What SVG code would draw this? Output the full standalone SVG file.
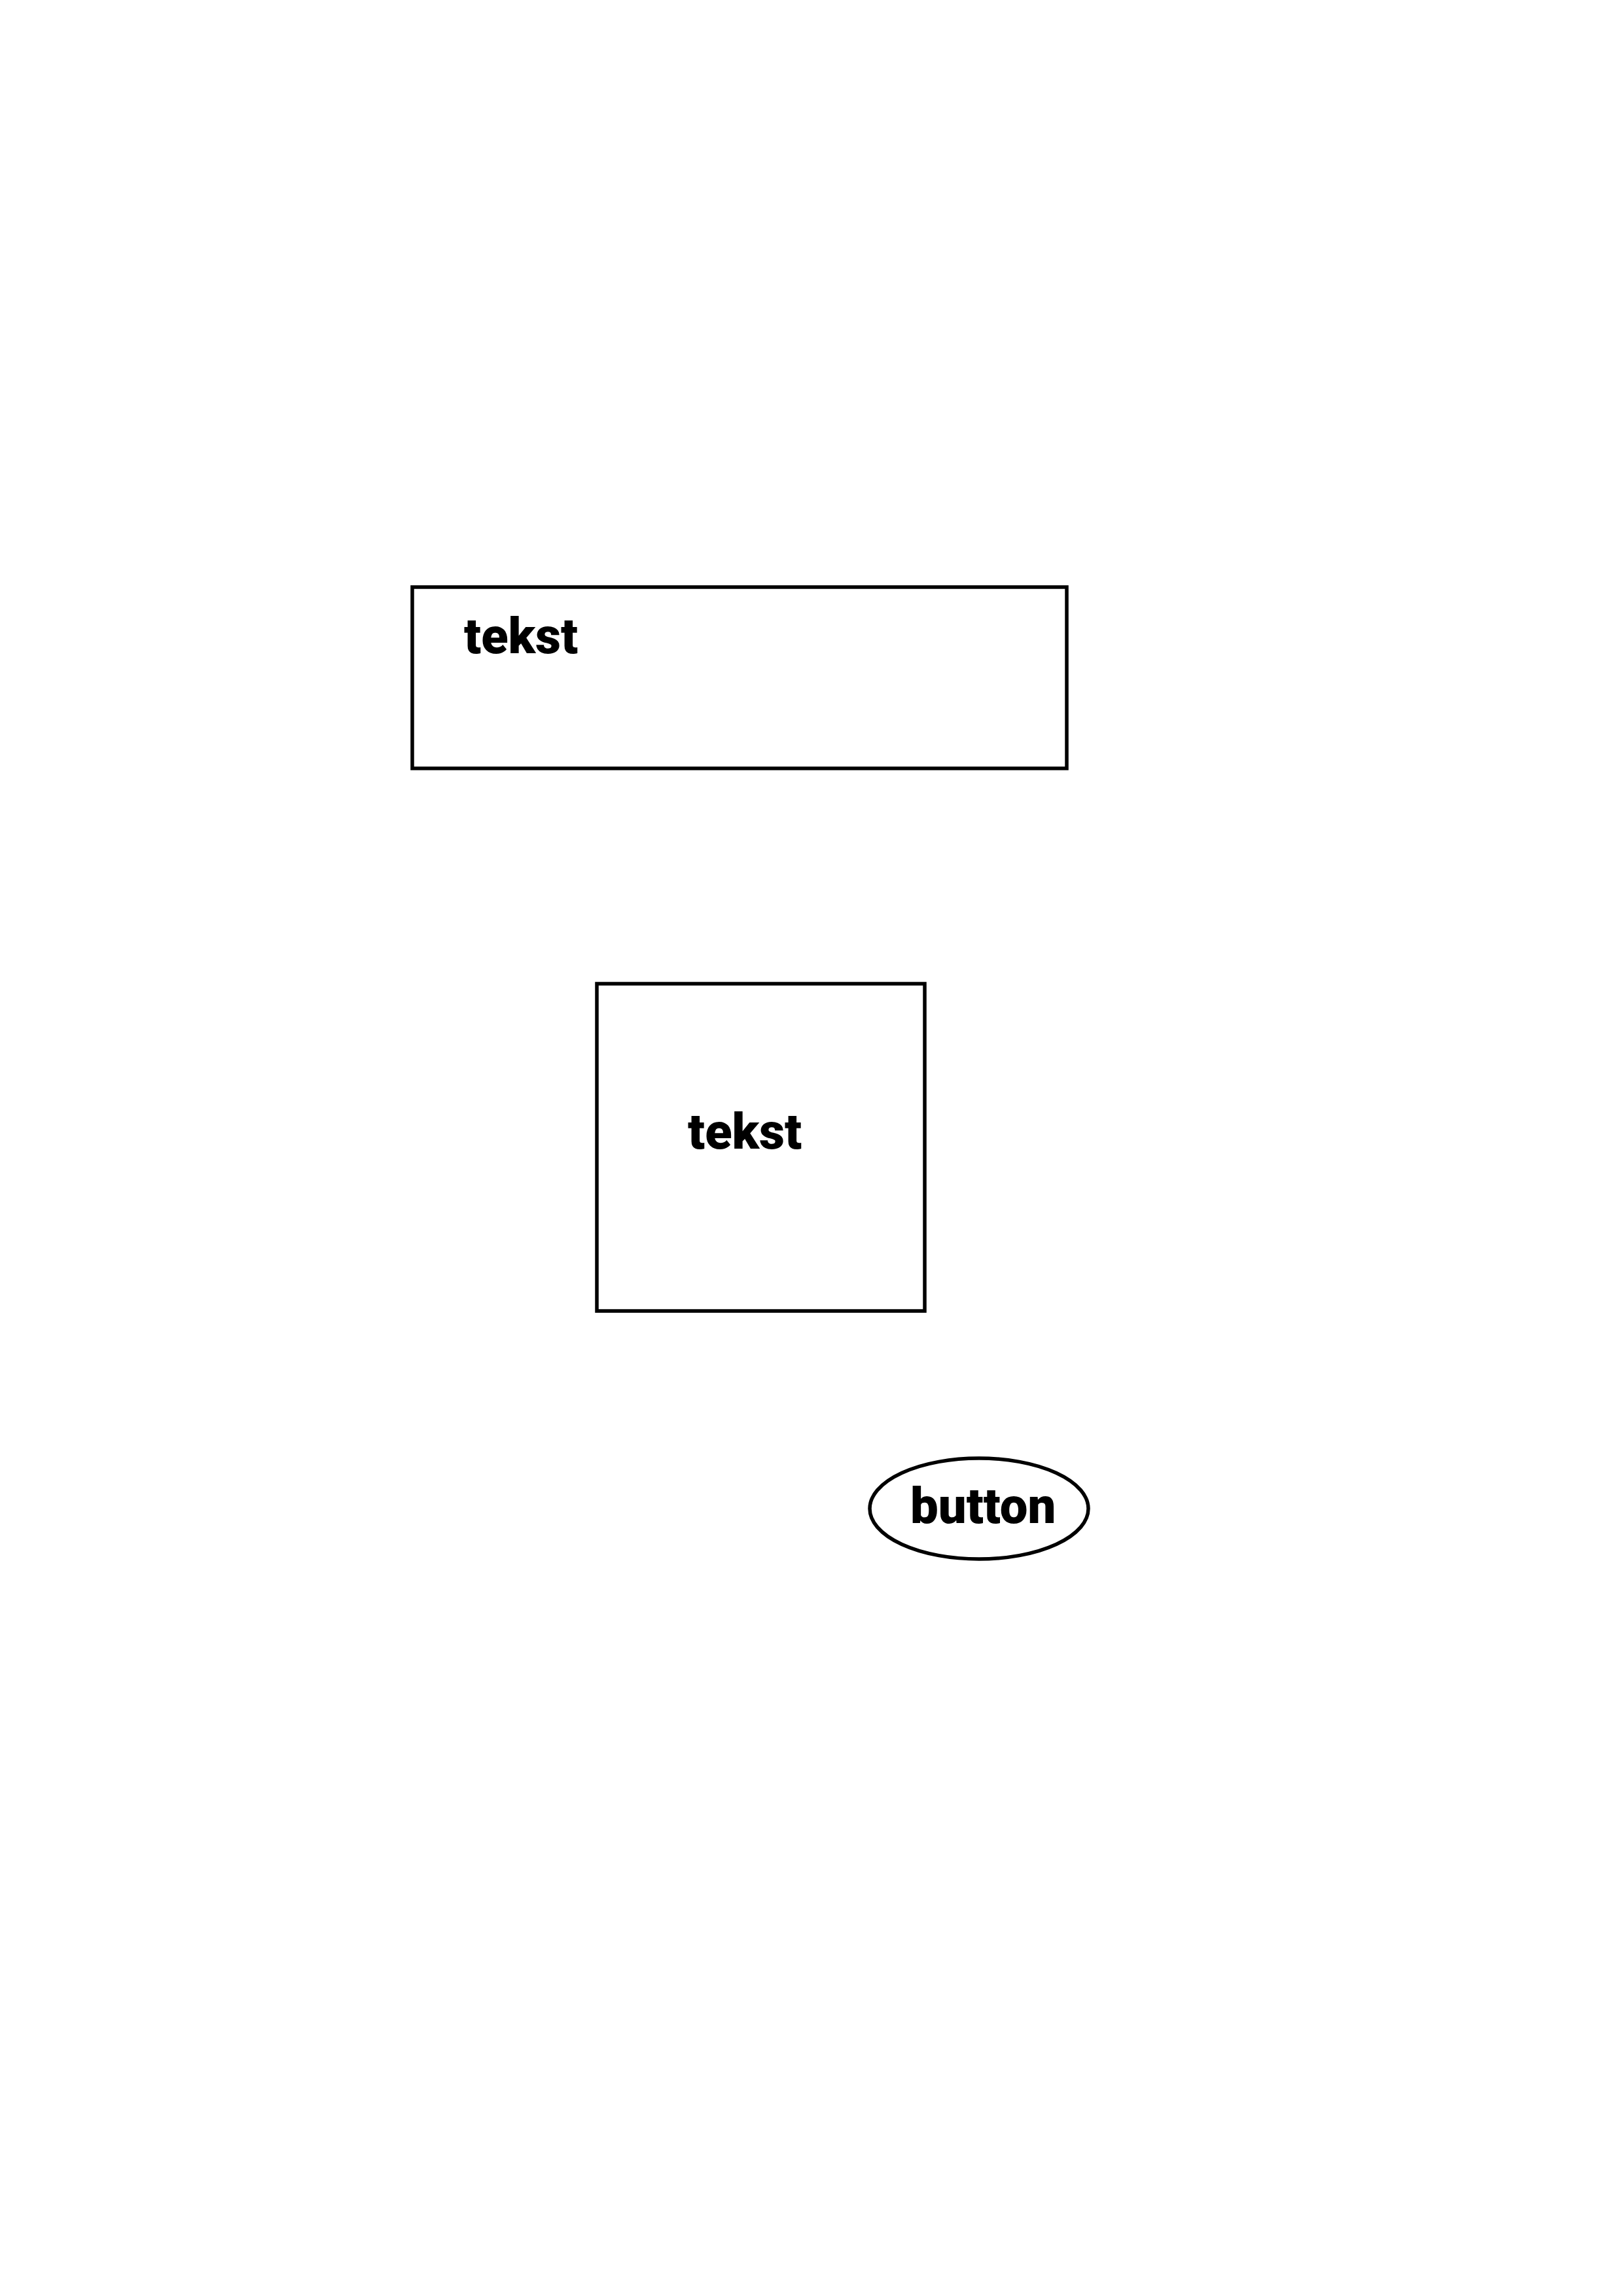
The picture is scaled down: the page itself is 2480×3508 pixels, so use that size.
<svg xmlns="http://www.w3.org/2000/svg" width="2480" height="3508" viewBox="0 0 2480 3508">
<style>
.shape{fill:#ffffff;stroke:#000000;stroke-width:5.5}
.label{font-family:Roboto,"Liberation Sans",sans-serif;font-weight:900;font-size:76px;fill:#000000}
</style>
<rect x="0" y="0" width="2480" height="3508" fill="#ffffff"/>
<g id="text-box">
<rect class="shape" x="630" y="897" width="1000" height="277"/>
<text class="label" x="709" y="998">tekst</text>
</g>
<g id="square-box">
<rect class="shape" x="912" y="1503" width="501" height="500"/>
<text class="label" x="1051" y="1755">tekst</text>
</g>
<g id="button">
<ellipse class="shape" cx="1496" cy="2305" rx="167" ry="77"/>
<text class="label" x="1391" y="2327">button</text>
</g>
<g id="connectors"></g>
</svg>
